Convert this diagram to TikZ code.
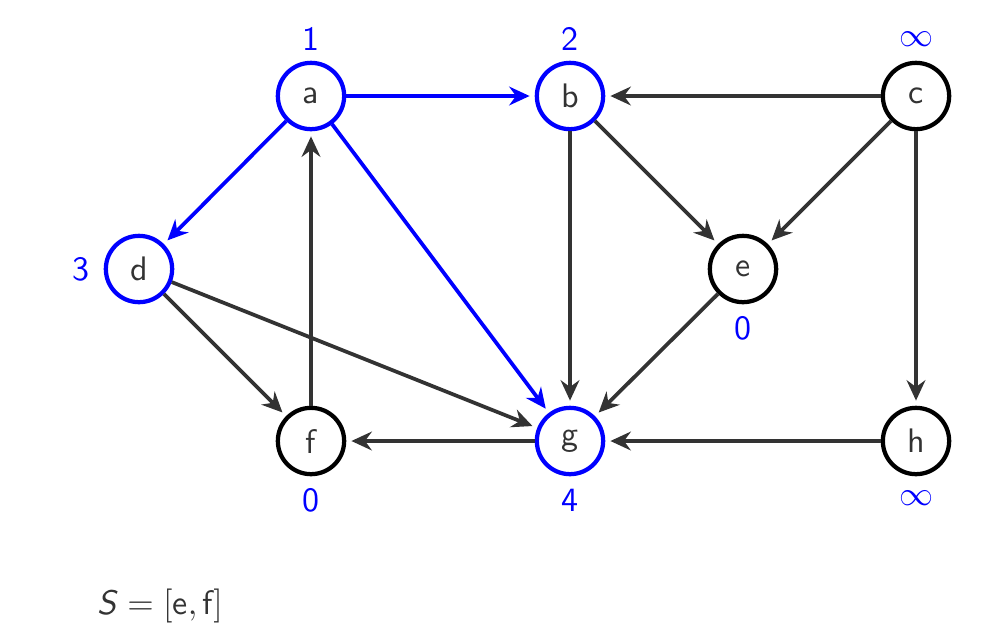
\documentclass[tikz,border=0pt]{standalone}
\usetikzlibrary{arrows.meta}
\renewcommand{\familydefault}{\sfdefault}
\begin{document}
\begin{tikzpicture}[x=0.294pt,y=-0.294pt,
  vtx/.style={circle,draw=black,line width=1.25pt,minimum size=19.5pt,inner sep=0pt,text=black!80,font=\sffamily},
  vis/.style={draw=blue},
  lab/.style={text=blue,font=\sffamily},
  edge/.style={draw=black!80,line width=1.1pt,-{Stealth[length=6pt,width=5.5pt,inset=2pt]},shorten >=1.5pt},
  bedge/.style={edge,draw=blue}]
\useasboundingbox (0,0) rectangle (1004,642);
\node[vtx,vis] (a) at (311,96) {a};
\node[vtx,vis] (b) at (570,96) {b};
\node[vtx] (c) at (916,96) {c};
\node[vtx,vis] (d) at (139,269) {d};
\node[vtx] (e) at (743,269) {e};
\node[vtx] (f) at (311,441) {f};
\node[vtx,vis] (g) at (570,441) {g};
\node[vtx] (h) at (916,441) {h};
\node[lab] (la) at (311,39) {1};
\node[lab] (lb) at (570,39) {2};
\node[lab] (lc) at (916,39) {$\infty$};
\node[lab] (ld) at (81,269) {3};
\node[lab] (le) at (743,328) {0};
\node[lab] (lf) at (311,500) {0};
\node[lab] (lg) at (570,500) {4};
\node[lab] (lh) at (916,498) {$\infty$};
\node[text=black!80,font=\sffamily] (s) at (160,606) {$\mbox{\textsl{S}} = [\mbox{e},\mbox{f}]$};
\draw[bedge] (a) -- (b);
\draw[bedge] (a) -- (d);
\draw[bedge] (a) -- (g);
\draw[edge] (b) -- (g);
\draw[edge] (b) -- (e);
\draw[edge] (c) -- (b);
\draw[edge] (c) -- (e);
\draw[edge] (c) -- (h);
\draw[edge] (d) -- (f);
\draw[edge] (d) -- (g);
\draw[edge] (e) -- (g);
\draw[edge] (f) -- (a);
\draw[edge] (g) -- (f);
\draw[edge] (h) -- (g);
\end{tikzpicture}
\end{document}
